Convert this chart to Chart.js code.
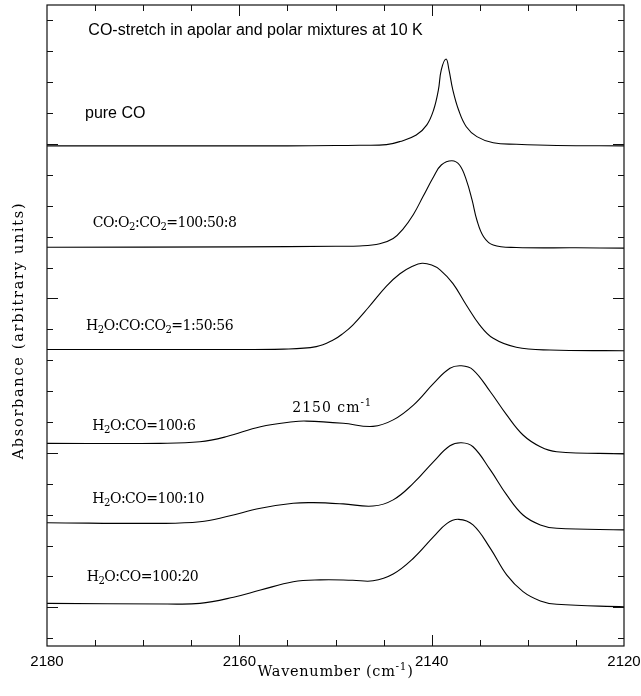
<!DOCTYPE html>
<html>
<head>
<meta charset="utf-8">
<script src="https://cdn.jsdelivr.net/npm/chart.js@4/dist/chart.umd.min.js"></script>
<style>
  html, body { margin: 0; padding: 0; background: #fff; }
  #wrap { width: 641px; height: 696px; }
</style>
</head>
<body>
<div id="wrap"><canvas id="spectra" width="641" height="696"></canvas></div>
<script>
// wavenumber axis (cm^-1), drawn high -> low
const xTicks = [2180, 2160, 2140, 2120];

// spectra, offset vertically (arbitrary absorbance units)
const pureWn  = [2180, 2165, 2155, 2150, 2147.5, 2144.7, 2143.3, 2141.6, 2140.5, 2139.8, 2139.3, 2139.0, 2138.5, 2138.2, 2137.8, 2137.2, 2136.4, 2135.3, 2133.6, 2131.2, 2127, 2120];
const pureAbs = [14.94, 14.94, 14.94, 14.95, 14.96, 14.98, 15.08, 15.29, 15.62, 16.10, 16.75, 17.40, 17.75, 17.40, 16.75, 16.10, 15.56, 15.24, 15.04, 14.99, 14.95, 14.94];

const o2Wn  = [2180, 2160, 2150, 2147.5, 2145.4, 2144.0, 2143.0, 2141.9, 2140.9, 2139.8, 2139.0, 2137.9, 2137.1, 2136.4, 2135.8, 2135.3, 2134.6, 2133.6, 2131.2, 2125, 2120];
const o2Abs = [11.66, 11.67, 11.69, 11.70, 11.77, 11.94, 12.24, 12.72, 13.30, 13.94, 14.32, 14.46, 14.32, 13.84, 13.19, 12.54, 12.00, 11.73, 11.65, 11.64, 11.63];

const co2Wn  = [2180, 2164.1, 2155.4, 2152.0, 2150.2, 2149.2, 2148.2, 2146.6, 2144.7, 2143.3, 2142.0, 2141.0, 2140.0, 2139.1, 2137.8, 2136.4, 2135.0, 2133.6, 2131.2, 2127.7, 2120];
const co2Abs = [8.35, 8.35, 8.36, 8.44, 8.66, 8.87, 9.14, 9.70, 10.40, 10.80, 11.04, 11.14, 11.08, 10.92, 10.49, 9.79, 9.14, 8.71, 8.42, 8.33, 8.31];

const h6Wn  = [2180, 2168.2, 2164.1, 2161.3, 2157.8, 2154.4, 2153.0, 2149.2, 2146.1, 2144.0, 2141.9, 2139.8, 2138.1, 2136.9, 2135.7, 2133.9, 2132.2, 2130.5, 2128.7, 2127.0, 2120];
const h6Abs = [5.31, 5.31, 5.36, 5.53, 5.85, 6.01, 6.03, 5.96, 5.86, 6.07, 6.55, 7.25, 7.74, 7.82, 7.69, 6.98, 6.23, 5.58, 5.20, 5.04, 4.97];

const h10Wn  = [2180, 2168.2, 2164.1, 2161.3, 2157.8, 2154.4, 2152.3, 2149.2, 2146.1, 2144.0, 2141.9, 2139.8, 2138.1, 2136.9, 2135.7, 2133.9, 2132.2, 2130.5, 2128.7, 2127.0, 2120];
const h10Abs = [2.74, 2.72, 2.77, 2.94, 3.21, 3.37, 3.39, 3.35, 3.28, 3.48, 4.02, 4.72, 5.23, 5.33, 5.20, 4.45, 3.64, 2.99, 2.67, 2.56, 2.51];

const h20Wn  = [2180, 2167.5, 2164.1, 2160.6, 2157.8, 2154.4, 2151.6, 2148.2, 2146.1, 2144.0, 2141.9, 2139.8, 2138.4, 2137.2, 2135.7, 2133.9, 2132.2, 2130.5, 2128.7, 2127.0, 2120];
const h20Abs = [0.13, 0.11, 0.13, 0.33, 0.56, 0.83, 0.89, 0.88, 0.86, 1.08, 1.59, 2.29, 2.72, 2.85, 2.67, 1.91, 1.05, 0.51, 0.21, 0.10, 0.02];

const seriesNames = ['pure CO', 'CO:O₂:CO₂=100:50:8', 'H₂O:CO:CO₂=1:50:56',
                     'H₂O:CO=100:6', 'H₂O:CO=100:10', 'H₂O:CO=100:20'];

const toPoints = (wn, abs) => wn.map((w, i) => ({ x: w, y: abs[i] }));

const spectra = [
  toPoints(pureWn, pureAbs),
  toPoints(o2Wn, o2Abs),
  toPoints(co2Wn, co2Abs),
  toPoints(h6Wn, h6Abs),
  toPoints(h10Wn, h10Abs),
  toPoints(h20Wn, h20Abs),
];

// where the annotations sit, in data units [wavenumber, absorbance]
const nameAnchors = [[2176.05, 15.84], [2175.25, 12.31], [2175.94, 8.98],
                     [2175.29, 5.74], [2175.29, 3.39], [2175.87, 0.86]];
const titleAnchor = [2175.7, 18.53];
const bandAnchor = [2154.5, 6.32];

const SERIF = '"DejaVu Serif", serif';
const SANS = '"Liberation Sans", Arial, sans-serif';

// split a label into runs: normal text, subscript (₂) and superscript (⁻¹)
function runs(text) {
  const out = [];
  for (const ch of text) {
    let kind = 'n', t = ch;
    if (ch === '₂') { kind = 'sub'; t = '2'; }
    else if (ch === '⁻') { kind = 'sup'; t = '-'; }
    else if (ch === '¹') { kind = 'sup'; t = '1'; }
    const last = out[out.length - 1];
    if (last && last.kind === kind) last.t += t; else out.push({ kind, t });
  }
  return out;
}

function richWidth(ctx, text, size, family, spacing) {
  let w = 0;
  for (const r of runs(text)) {
    const s = r.kind === 'n' ? size : size * 0.72;
    ctx.font = s + 'px ' + family;
    ctx.letterSpacing = spacing + 'px';
    w += ctx.measureText(r.t).width;
  }
  return w;
}

function drawRich(ctx, text, x, y, size, family, spacing) {
  for (const r of runs(text)) {
    const s = r.kind === 'n' ? size : size * 0.72;
    const dy = r.kind === 'sub' ? size * 0.22 : r.kind === 'sup' ? -size * 0.42 : 0;
    ctx.font = s + 'px ' + family;
    ctx.letterSpacing = spacing + 'px';
    ctx.fillText(r.t, x, y + dy);
    x += ctx.measureText(r.t).width;
  }
}

// frame with inward ticks on all four sides, plus all the text
const framePlugin = {
  id: 'frame',
  afterDraw(chart) {
    const { ctx, chartArea: a, scales: { x, y } } = chart;
    ctx.save();
    ctx.strokeStyle = '#111';
    ctx.lineWidth = 1.2;
    ctx.strokeRect(a.left, a.top, a.right - a.left, a.bottom - a.top);

    ctx.lineWidth = 1;
    ctx.beginPath();
    for (let w = 2175; w > 2120; w -= 5) {
      const px = Math.round(x.getPixelForValue(w)) + 0.5;
      const len = w % 20 === 0 ? 11 : 6;
      ctx.moveTo(px, a.bottom); ctx.lineTo(px, a.bottom - len);
      ctx.moveTo(px, a.top); ctx.lineTo(px, a.top + len);
    }
    for (let v = -1; v <= 19; v++) {
      const py = Math.round(y.getPixelForValue(v)) + 0.5;
      const len = v % 5 === 0 ? 11 : 6;
      ctx.moveTo(a.left, py); ctx.lineTo(a.left + len, py);
      ctx.moveTo(a.right, py); ctx.lineTo(a.right - len, py);
    }
    ctx.stroke();

    ctx.fillStyle = '#000';
    ctx.textBaseline = 'alphabetic';
    ctx.textAlign = 'left';

    ctx.font = '16px ' + SANS;
    ctx.fillText('CO-stretch in apolar and polar mixtures at 10 K',
      x.getPixelForValue(titleAnchor[0]), y.getPixelForValue(titleAnchor[1]));
    ctx.fillText(seriesNames[0],
      x.getPixelForValue(nameAnchors[0][0]), y.getPixelForValue(nameAnchors[0][1]));

    for (let i = 1; i < seriesNames.length; i++) {
      drawRich(ctx, seriesNames[i],
        x.getPixelForValue(nameAnchors[i][0]), y.getPixelForValue(nameAnchors[i][1]), 14, SERIF, -0.5);
    }
    drawRich(ctx, '2150 cm⁻¹', x.getPixelForValue(bandAnchor[0]), y.getPixelForValue(bandAnchor[1]), 14, SERIF, 1);

    // axis titles, spaced out to the width of the original lettering
    const xt = 'Wavenumber (cm⁻¹)';
    const xw0 = richWidth(ctx, xt, 14.5, SERIF, 0);
    const xsp = (156 - xw0) / 17;
    const xw = richWidth(ctx, xt, 14.5, SERIF, xsp);
    drawRich(ctx, xt, (a.left + a.right) / 2 - xw / 2, 676, 14.5, SERIF, xsp);

    const yt = 'Absorbance (arbitrary units)';
    const yw0 = richWidth(ctx, yt, 14.5, SERIF, 0);
    const ysp = (256 - yw0) / 27;
    const yw = richWidth(ctx, yt, 14.5, SERIF, ysp);
    ctx.translate(22.5, (a.top + a.bottom) / 2 + 5);
    ctx.rotate(-Math.PI / 2);
    drawRich(ctx, yt, -yw / 2, 0, 14.5, SERIF, ysp);
    ctx.restore();
  }
};

new Chart(document.getElementById('spectra'), {
  type: 'line',
  data: {
    datasets: spectra.map((pts, i) => ({
      label: seriesNames[i],
      data: pts,
      borderColor: '#000',
      borderWidth: 1.1,
      pointRadius: 0,
      fill: false,
      tension: 0.4,
    })),
  },
  options: {
    responsive: false,
    devicePixelRatio: 1,
    animation: false,
    events: [],
    layout: { padding: { top: 5, right: 17, left: 0, bottom: 0 } },
    plugins: { legend: { display: false }, tooltip: { enabled: false } },
    scales: {
      x: {
        type: 'linear',
        reverse: true,
        min: 2120,
        max: 2180,
        afterBuildTicks: (scale) => { scale.ticks = xTicks.map(v => ({ value: v })); },
        afterFit: (scale) => { scale.height = 50; scale.paddingLeft = 0; scale.paddingRight = 0; },
        grid: { display: false, drawTicks: false },
        border: { display: false },
        ticks: {
          color: '#000', padding: 7, maxRotation: 0,
          font: { family: SANS, size: 15 },
          callback: (v) => String(v),
        },
      },
      y: {
        type: 'linear',
        min: -1.25,
        max: 19.5,
        afterFit: (scale) => { scale.width = 47; },
        grid: { display: false },
        border: { display: false },
        ticks: { display: false },
      },
    },
  },
  plugins: [framePlugin],
});
</script>
</body>
</html>
